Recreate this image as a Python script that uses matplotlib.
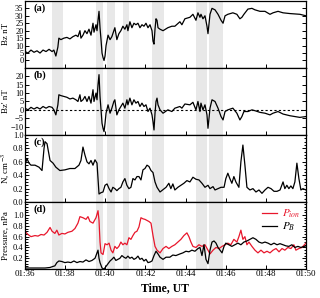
import matplotlib
matplotlib.use('Agg')
import matplotlib.pyplot as plt
from matplotlib.ticker import MultipleLocator, FixedLocator
import numpy as np

plt.rcParams['font.family'] = ['Liberation Serif', 'DejaVu Serif']
plt.rcParams['mathtext.fontset'] = 'stix'

# --- dados (tempo em minutos depois de 01:36) ---
t_mag = [0.0, 0.15, 0.30, 0.45, 0.60, 0.75, 0.90, 1.05, 1.20, 1.35, 1.44, 1.54, 1.64, 1.69, 1.79,
         1.94, 2.09, 2.24, 2.39, 2.54, 2.64, 2.74, 2.79, 2.89, 2.99, 3.09, 3.19, 3.29, 3.39, 3.44,
         3.54, 3.59, 3.64, 3.69, 3.74, 3.79, 3.84, 3.89, 3.94, 3.99, 4.04, 4.14, 4.24, 4.33, 4.43,
         4.48, 4.58, 4.68, 4.78, 4.88, 4.98, 5.08, 5.13, 5.23, 5.33, 5.43, 5.53, 5.63, 5.73, 5.83,
         5.93, 6.03, 6.13, 6.23, 6.33, 6.38, 6.43, 6.48, 6.53, 6.58, 6.63, 6.73,
         6.88, 7.12, 7.32, 7.47, 7.72, 7.82, 7.97, 8.22, 8.37, 8.52, 8.62, 8.72, 8.77, 8.87, 8.97,
         9.07, 9.12, 9.22, 9.32, 9.47, 9.62, 9.77, 9.87, 9.97, 10.11, 10.36, 10.56, 10.71, 10.81,
         10.91, 11.11, 11.31, 11.46, 11.71, 11.96, 12.21, 12.36, 12.61, 12.86, 13.20, 13.70, 14.0]
bz = [6, 5, 7, 5.5, 6.5, 5, 7, 6, 7.5, 6, 7, 3, 9, 15, 14,
      15, 15.5, 14.5, 16, 17, 16, 20, 15, 17, 20, 18, 21, 17, 25, 19,
      24, 20, 27, 33, 22, 14, 5, 2, 0, 3, 10, 17, 14, 16, 20,
      22, 14, 18, 20, 23, 21, 24, 20, 26, 22, 25, 24, 25, 22, 24,
      23, 25, 22, 24, 20, 13, 11, 21, 28, 27, 22, 21,
      20, 22, 23, 23, 26, 24, 28, 29, 31, 27, 32, 29, 31, 28, 30,
      23, 18, 31, 35, 34, 31, 27, 25, 30, 31, 32, 31, 28, 29,
      31, 34.5, 35, 34, 33, 33, 31, 32, 33, 32, 31.5, 31, 30]
bz_det = [1, 0, 1.5, 0.5, 1.5, 0.5, 2, 1, 2, 1.5, 0, -3, 3, 9, 8.5,
          8, 7.5, 6.5, 7, 6, 5, 9, 5, 6, 8, 5, 8, 4, 12, 5,
          10, 6, 15, 21, 8, 0, -8, -11, -13, -8, -2, 3, -2, 1, 5,
          6, -3, 0, 2, 4, 1, 6, 3, 7, 3, 6, 4, 5, 2, 4,
          2, 3, -1, 1, -3, -7, -12, -2, 5, 7, 3, 0,
          -2, 0, -1, 1, 2, 1, 3.5, 3, 4.5, 0, 5, -1, 4, 0, 3,
          -3, -11, 1, 6, 5, 1, -4, -6, -1, 0, 1, -2, -6, -4,
          -1, -1, 0, -0.5, -1.5, -2, -3, -2, -1, -2.5, -3.5, -4.5, -4]

t_n = [0.0, 0.10, 0.20, 0.30, 0.50, 0.70, 0.85, 0.95, 1.00, 1.10, 1.25, 1.40, 1.54, 1.74, 1.99,
       2.24, 2.49, 2.69, 2.79, 2.89, 2.99, 3.09, 3.19, 3.29, 3.39, 3.49, 3.59, 3.69, 3.79, 3.89,
       3.99, 4.09, 4.19, 4.29, 4.38, 4.48, 4.58, 4.68, 4.78, 4.88, 4.98, 5.08, 5.18, 5.28, 5.38,
       5.48, 5.58, 5.68, 5.78, 5.88, 5.98, 6.08, 6.18, 6.28, 6.38, 6.48, 6.58, 6.73,
       7.03, 7.17, 7.27, 7.37, 7.47, 7.62, 7.77, 7.92, 8.07, 8.22, 8.37, 8.52, 8.67, 8.82, 8.97,
       9.12, 9.22, 9.37, 9.47, 9.62, 9.77, 9.92, 10.01, 10.11, 10.21, 10.31, 10.41, 10.51, 10.66,
       10.76, 10.86, 10.96, 11.06, 11.21, 11.36, 11.51, 11.66, 11.81, 11.96, 12.11, 12.26, 12.41,
       12.56, 12.71, 12.86, 12.95, 13.05, 13.15, 13.25, 13.35, 13.45, 13.55, 13.65, 13.75, 13.85, 14.0]
dens = [0.55, 0.65, 0.58, 0.55, 0.55, 0.52, 0.47, 0.80, 0.90, 0.87, 0.62, 0.58, 0.52, 0.47, 0.48,
        0.50, 0.50, 0.55, 0.62, 0.82, 0.70, 0.60, 0.57, 0.62, 0.55, 0.63, 0.58, 0.12, 0.14, 0.15,
        0.25, 0.27, 0.20, 0.15, 0.22, 0.20, 0.17, 0.20, 0.22, 0.30, 0.35, 0.25, 0.20, 0.22, 0.35,
        0.33, 0.38, 0.38, 0.33, 0.48, 0.50, 0.55, 0.53, 0.47, 0.44, 0.30, 0.22, 0.15,
        0.22, 0.28, 0.20, 0.27, 0.18, 0.22, 0.25, 0.28, 0.32, 0.30, 0.37, 0.34, 0.33, 0.28, 0.22,
        0.25, 0.20, 0.23, 0.18, 0.20, 0.22, 0.22, 0.35, 0.43, 0.35, 0.28, 0.38, 0.30, 0.22,
        0.60, 0.85, 0.55, 0.22, 0.18, 0.20, 0.15, 0.18, 0.13, 0.18, 0.22, 0.20, 0.16,
        0.16, 0.18, 0.30, 0.20, 0.25, 0.20, 0.24, 0.20, 0.30, 0.58, 0.35, 0.18, 0.20, 0.18]

t_pi = [0.0, 0.15, 0.30, 0.50, 0.65, 0.80, 0.95, 1.10, 1.25, 1.35, 1.49, 1.59, 1.69, 1.84, 1.99,
        2.14, 2.34, 2.49, 2.64, 2.74, 2.89, 3.04, 3.14, 3.24, 3.39, 3.54, 3.64, 3.69, 3.74, 3.79,
        3.89, 3.99, 4.09, 4.19, 4.29, 4.38, 4.48, 4.58, 4.68, 4.78, 4.88, 4.98, 5.08, 5.18, 5.28,
        5.38, 5.48, 5.58, 5.68, 5.78, 5.88, 5.98, 6.08, 6.18, 6.28, 6.38, 6.48, 6.58, 6.73,
        6.88, 7.03, 7.17, 7.32, 7.47, 7.62, 7.77, 7.92, 8.07, 8.17, 8.27, 8.37, 8.52, 8.67, 8.82,
        8.97, 9.12, 9.22, 9.37, 9.52, 9.67, 9.82, 9.97, 10.11, 10.26, 10.41, 10.56, 10.66, 10.76,
        10.86, 10.96, 11.06, 11.16, 11.31, 11.46, 11.61, 11.76, 11.91, 12.06, 12.21, 12.36, 12.51,
        12.66, 12.81, 12.95, 13.10, 13.25, 13.40, 13.50, 13.65, 13.80, 14.0]
p_ion = [0.70, 0.64, 0.60, 0.62, 0.61, 0.64, 0.63, 0.68, 0.77, 0.70, 0.66, 0.72, 0.63, 0.66, 0.65,
         0.68, 0.70, 0.75, 0.85, 0.97, 0.95, 0.92, 0.97, 0.88, 0.85, 0.95, 1.08, 0.90, 0.50, 0.30,
         0.27, 0.47, 0.45, 0.48, 0.35, 0.30, 0.42, 0.38, 0.42, 0.50, 0.45, 0.48, 0.45, 0.58, 0.55,
         0.62, 0.68, 0.70, 0.78, 0.95, 0.93, 0.92, 0.90, 0.88, 0.85, 0.62, 0.42, 0.35, 0.30,
         0.38, 0.42, 0.38, 0.42, 0.45, 0.50, 0.55, 0.62, 0.67, 0.60, 0.50, 0.42, 0.40, 0.45, 0.42,
         0.45, 0.35, 0.28, 0.35, 0.40, 0.38, 0.42, 0.45, 0.48, 0.45, 0.55, 0.50, 0.60, 0.72,
         0.55, 0.60, 0.45, 0.50, 0.42, 0.35, 0.30, 0.35, 0.30, 0.33, 0.30, 0.35, 0.38,
         0.32, 0.38, 0.35, 0.40, 0.38, 0.45, 0.35, 0.38, 0.40, 0.48]

t_pb = [0.0, 0.50, 1.00, 1.25, 1.40, 1.49, 1.59, 1.69, 1.84, 1.99, 2.14, 2.29, 2.44, 2.59, 2.74,
        2.89, 3.04, 3.19, 3.34, 3.49, 3.59, 3.64, 3.69, 3.74, 3.84, 3.94, 4.04, 4.14, 4.24, 4.33,
        4.43, 4.53, 4.63, 4.73, 4.83, 4.93, 5.03, 5.13, 5.23, 5.33, 5.43, 5.53, 5.63, 5.73, 5.83,
        5.93, 6.03, 6.13, 6.23, 6.33, 6.43, 6.53, 6.63, 6.73,
        6.88, 7.03, 7.22, 7.37, 7.52, 7.72, 7.87, 8.02, 8.17, 8.32, 8.47, 8.62, 8.72, 8.82, 8.92,
        9.02, 9.12, 9.22, 9.32, 9.42, 9.52, 9.62, 9.72, 9.82, 9.92, 10.01, 10.16, 10.31, 10.46,
        10.61, 10.76, 10.91, 11.06, 11.21, 11.36, 11.51, 11.66, 11.81, 11.96, 12.11, 12.26, 12.41,
        12.56, 12.71, 12.86, 13.00, 13.15, 13.30, 13.45, 13.60, 13.75, 14.0]
p_b = [0.02, 0.02, 0.02, 0.03, 0.05, 0.06, 0.12, 0.15, 0.14, 0.12, 0.13, 0.12, 0.15, 0.12, 0.14,
       0.13, 0.17, 0.14, 0.16, 0.20, 0.30, 0.35, 0.20, 0.12, 0.02, 0.00, 0.05, 0.10, 0.15, 0.18,
       0.22, 0.16, 0.18, 0.20, 0.25, 0.22, 0.20, 0.24, 0.20, 0.22, 0.18, 0.20, 0.24, 0.18, 0.20,
       0.15, 0.18, 0.12, 0.13, 0.15, 0.25, 0.33, 0.28, 0.22,
       0.18, 0.22, 0.22, 0.26, 0.25, 0.28, 0.30, 0.33, 0.32, 0.35, 0.33, 0.38, 0.40, 0.25, 0.45,
       0.18, 0.10, 0.35, 0.50, 0.52, 0.48, 0.40, 0.35, 0.30, 0.42, 0.48, 0.45, 0.42, 0.45,
       0.48, 0.45, 0.50, 0.52, 0.55, 0.58, 0.55, 0.50, 0.48, 0.50, 0.48, 0.45, 0.48,
       0.45, 0.47, 0.45, 0.43, 0.42, 0.45, 0.40, 0.42, 0.40, 0.43]

# intervalos sombreados (inicio, fim) em minutos
faixas = [(1.35, 1.89), (3.54, 3.89), (4.09, 4.48), (4.88, 5.18),
          (6.33, 6.93), (8.52, 9.07), (9.17, 9.87)]

rotulos_x = ['01:36', '01:38', '01:40', '01:42', '01:44', '01:46', '01:48', '01:50']
vermelho = '#e8172c'

# --- figura ---
fig = plt.figure(figsize=(3.2, 2.98), dpi=100)
gs = fig.add_gridspec(4, 1, left=0.078, right=0.956, bottom=0.097, top=0.997, hspace=0)
axs = [fig.add_subplot(gs[i]) for i in range(4)]

for ax in axs:
    for a, b in faixas:
        ax.axvspan(a, b, color='#e8e8e8', lw=0, zorder=0)
    ax.set_xlim(0, 14)
    ax.set_xticks(np.arange(0, 15, 2))
    ax.tick_params(direction='in', length=3, width=0.7, labelsize=6, pad=1,
                   right=True, which='both')
    ax.tick_params(axis='x', labelsize=6.5)
    ax.tick_params(which='minor', length=1.8)
    for s in ax.spines.values():
        s.set_linewidth(0.9)

for ax in axs[:3]:
    ax.set_xticklabels([])
axs[3].set_xticklabels(rotulos_x)

# (a)
ax = axs[0]
ax.plot(t_mag, bz, color='k', lw=0.9)
ax.set_ylim(-5, 40)
ax.set_yticks(np.arange(0, 36, 5))
ax.set_ylabel('Bz nT', fontsize=6.5)

# (b)
ax = axs[1]
ax.plot(t_mag, bz_det, color='k', lw=0.9)
ax.axhline(0, color='k', ls=(0, (2, 2)), lw=0.8)
ax.set_ylim(-15, 25)
ax.set_yticks(np.arange(-10, 21, 5))
ax.set_ylabel("Bz' nT", fontsize=6.5)

# (c)
ax = axs[2]
ax.plot(t_n, dens, color='k', lw=0.9)
ax.set_ylim(0, 1.0)
ax.set_yticks(np.arange(0, 1.01, 0.2))
ax.yaxis.set_minor_locator(MultipleLocator(0.05))
ax.set_ylabel('N, cm$^{-3}$', fontsize=6.5)

# (d)
ax = axs[3]
ax.plot(t_pi, p_ion, color=vermelho, lw=0.9, label=r'$P_{ion}$')
ax.plot(t_pb, p_b, color='k', lw=0.9, label=r'$P_B$')
ax.set_ylim(0, 1.24)
ax.set_yticks(np.arange(0.2, 1.01, 0.2))
ax.yaxis.set_minor_locator(FixedLocator(np.arange(0.05, 1.24, 0.05)))
ax.set_ylabel('Pressure, nPa', fontsize=6.5)
ax.set_xlabel('Time, UT', fontsize=8.5, fontweight='bold', labelpad=3)
leg = ax.legend(loc='upper right', fontsize=8, frameon=False, handlelength=1.4,
                handletextpad=0.4, labelspacing=0.05, borderaxespad=0.1,
                labelcolor='linecolor')

# rotulos do eixo y alinhados na mesma coluna
for ax in axs:
    ax.yaxis.set_label_coords(-0.055, 0.5)
axs[2].yaxis.set_label_coords(-0.048, 0.5)

for ax, let in zip(axs, 'abcd'):
    ax.text(0.03, 0.96, f'({let})', transform=ax.transAxes, fontsize=7.5,
            fontweight='bold', va='top', ha='left')

fig.savefig('out.png', dpi=100)
